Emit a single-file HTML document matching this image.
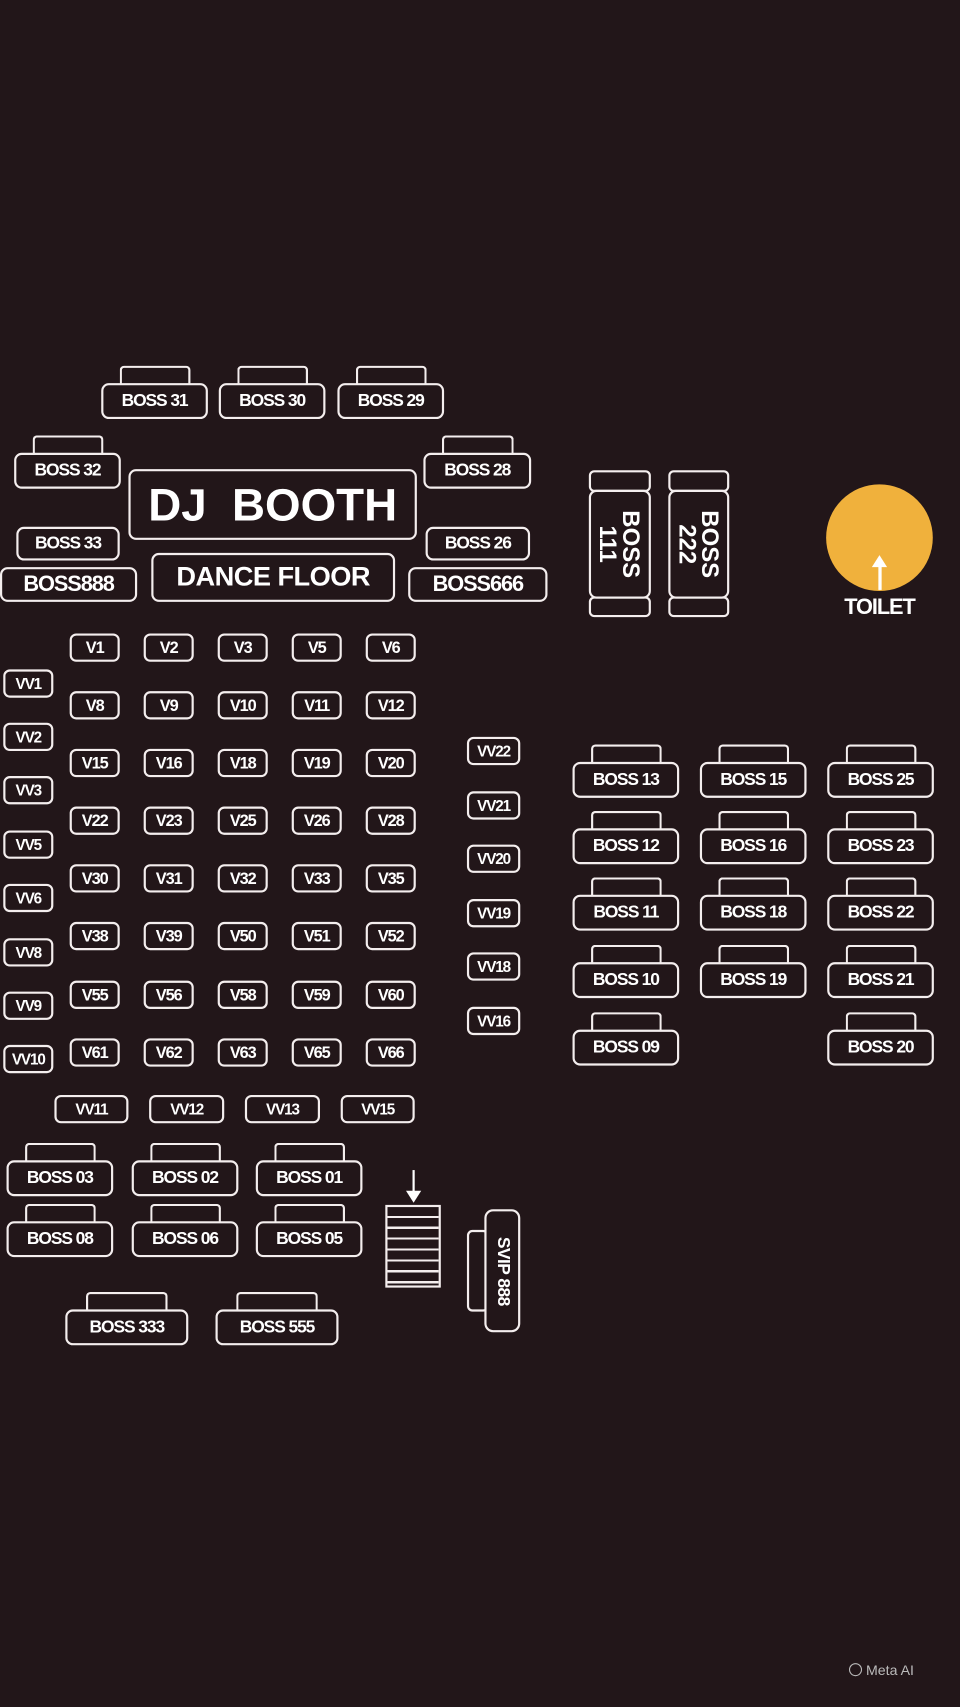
<!DOCTYPE html>
<html><head><meta charset="utf-8"><style>
html,body{margin:0;padding:0;background:#221619;}
body{width:960px;height:1706px;overflow:hidden;position:relative;}
#s{position:absolute;left:0;top:0;width:882px;height:1568px;transform:scale(1.08844);transform-origin:0 0;font-family:"Liberation Sans",sans-serif;font-weight:bold;color:#fff;}
.b{position:absolute;border:2px solid #f4eeee;border-radius:7px;box-sizing:border-box;display:flex;align-items:center;justify-content:center;letter-spacing:-1px;white-space:nowrap;background:#221619;}
.t{position:absolute;border:2px solid #f4eeee;border-bottom:none;border-radius:4px 4px 0 0;box-sizing:border-box;}
.bs{font-size:16px;height:33px;width:98px;}
.v{font-size:15px;width:46px;height:26px;border-radius:6px;}
.vv{font-size:14px;width:46px;height:26px;border-radius:6px;}
</style></head><body><div id="s">
<!-- top boss row -->
<div class="t" style="left:110px;top:336px;width:65px;height:17px"></div><div class="b bs" style="left:93px;top:352px">BOSS 31</div>
<div class="t" style="left:218px;top:336px;width:65px;height:17px"></div><div class="b bs" style="left:201px;top:352px">BOSS 30</div>
<div class="t" style="left:327px;top:336px;width:65px;height:17px"></div><div class="b bs" style="left:310px;top:352px">BOSS 29</div>
<div class="t" style="left:30px;top:400px;width:65px;height:17px"></div><div class="b bs" style="left:13px;top:416px">BOSS 32</div>
<div class="t" style="left:406px;top:400px;width:66px;height:17px"></div><div class="b bs" style="left:389px;top:416px;width:99px">BOSS 28</div>
<div class="b" style="left:118px;top:431px;width:265px;height:65px;font-size:42px;letter-spacing:0">DJ&nbsp; BOOTH</div>
<div class="b bs" style="left:15px;top:484px;width:95px;height:31px">BOSS 33</div>
<div class="b bs" style="left:391px;top:484px;width:96px;height:31px">BOSS 26</div>
<div class="b" style="left:0px;top:521px;width:126px;height:32px;font-size:20px">BOSS888</div>
<div class="b" style="left:139px;top:508px;width:224px;height:45px;font-size:25px;letter-spacing:-0.5px">DANCE FLOOR</div>
<div class="b" style="left:375px;top:521px;width:128px;height:32px;font-size:20px">BOSS666</div>
<!-- vertical boss -->
<div class="b" style="left:541px;top:432px;width:57px;height:20px;border-radius:5px"></div>
<div class="b" style="left:541px;top:548px;width:57px;height:19px;border-radius:5px"></div>
<div class="b" style="left:541px;top:450px;width:57px;height:100px;"><div style="transform:rotate(90deg);font-size:22px;line-height:21px;text-align:center;letter-spacing:0">BOSS<br>111</div></div>
<div class="b" style="left:614px;top:432px;width:56px;height:20px;border-radius:5px"></div>
<div class="b" style="left:614px;top:548px;width:56px;height:19px;border-radius:5px"></div>
<div class="b" style="left:614px;top:450px;width:56px;height:100px;"><div style="transform:rotate(90deg);font-size:22px;line-height:21px;text-align:center;letter-spacing:0">BOSS<br>222</div></div>
<!-- toilet -->
<div style="position:absolute;left:759px;top:445px;width:98px;height:98px;border-radius:50%;background:#f0b13c"></div>
<div style="position:absolute;left:807px;top:520px;width:3px;height:22px;background:#fff"></div>
<div style="position:absolute;left:801px;top:510px;width:0;height:0;border-left:7px solid transparent;border-right:7px solid transparent;border-bottom:11px solid #fff"></div>
<div style="position:absolute;left:758px;top:547px;width:100px;text-align:center;font-size:20px;letter-spacing:-1px">TOILET</div>
<!-- V grid -->
<div class="b v" style="left:64px;top:582px">V1</div><div class="b v" style="left:132px;top:582px">V2</div><div class="b v" style="left:200px;top:582px">V3</div><div class="b v" style="left:268px;top:582px">V5</div><div class="b v" style="left:336px;top:582px">V6</div>
<div class="b v" style="left:64px;top:635px">V8</div><div class="b v" style="left:132px;top:635px">V9</div><div class="b v" style="left:200px;top:635px">V10</div><div class="b v" style="left:268px;top:635px">V11</div><div class="b v" style="left:336px;top:635px">V12</div>
<div class="b v" style="left:64px;top:688px">V15</div><div class="b v" style="left:132px;top:688px">V16</div><div class="b v" style="left:200px;top:688px">V18</div><div class="b v" style="left:268px;top:688px">V19</div><div class="b v" style="left:336px;top:688px">V20</div>
<div class="b v" style="left:64px;top:741px">V22</div><div class="b v" style="left:132px;top:741px">V23</div><div class="b v" style="left:200px;top:741px">V25</div><div class="b v" style="left:268px;top:741px">V26</div><div class="b v" style="left:336px;top:741px">V28</div>
<div class="b v" style="left:64px;top:794px">V30</div><div class="b v" style="left:132px;top:794px">V31</div><div class="b v" style="left:200px;top:794px">V32</div><div class="b v" style="left:268px;top:794px">V33</div><div class="b v" style="left:336px;top:794px">V35</div>
<div class="b v" style="left:64px;top:847px">V38</div><div class="b v" style="left:132px;top:847px">V39</div><div class="b v" style="left:200px;top:847px">V50</div><div class="b v" style="left:268px;top:847px">V51</div><div class="b v" style="left:336px;top:847px">V52</div>
<div class="b v" style="left:64px;top:901px">V55</div><div class="b v" style="left:132px;top:901px">V56</div><div class="b v" style="left:200px;top:901px">V58</div><div class="b v" style="left:268px;top:901px">V59</div><div class="b v" style="left:336px;top:901px">V60</div>
<div class="b v" style="left:64px;top:954px">V61</div><div class="b v" style="left:132px;top:954px">V62</div><div class="b v" style="left:200px;top:954px">V63</div><div class="b v" style="left:268px;top:954px">V65</div><div class="b v" style="left:336px;top:954px">V66</div>
<!-- VV left -->
<div class="b vv" style="left:3px;top:615px">VV1</div>
<div class="b vv" style="left:3px;top:664px">VV2</div>
<div class="b vv" style="left:3px;top:713px">VV3</div>
<div class="b vv" style="left:3px;top:763px">VV5</div>
<div class="b vv" style="left:3px;top:812px">VV6</div>
<div class="b vv" style="left:3px;top:862px">VV8</div>
<div class="b vv" style="left:3px;top:911px">VV9</div>
<div class="b vv" style="left:3px;top:960px">VV10</div>
<!-- VV right -->
<div class="b vv" style="left:429px;top:677px;width:49px">VV22</div>
<div class="b vv" style="left:429px;top:727px;width:49px">VV21</div>
<div class="b vv" style="left:429px;top:776px;width:49px">VV20</div>
<div class="b vv" style="left:429px;top:826px;width:49px">VV19</div>
<div class="b vv" style="left:429px;top:875px;width:49px">VV18</div>
<div class="b vv" style="left:429px;top:925px;width:49px">VV16</div>
<!-- VV bottom -->
<div class="b vv" style="left:50px;top:1006px;width:68px">VV11</div>
<div class="b vv" style="left:137px;top:1006px;width:69px">VV12</div>
<div class="b vv" style="left:225px;top:1006px;width:69px">VV13</div>
<div class="b vv" style="left:313px;top:1006px;width:68px">VV15</div>
<!-- right boss grid -->
<div class="t" style="left:543px;top:684px;width:65px;height:17px"></div><div class="b bs" style="left:526px;top:700px">BOSS 13</div>
<div class="t" style="left:660px;top:684px;width:65px;height:17px"></div><div class="b bs" style="left:643px;top:700px">BOSS 15</div>
<div class="t" style="left:777px;top:684px;width:65px;height:17px"></div><div class="b bs" style="left:760px;top:700px">BOSS 25</div>
<div class="t" style="left:543px;top:745px;width:65px;height:17px"></div><div class="b bs" style="left:526px;top:761px">BOSS 12</div>
<div class="t" style="left:660px;top:745px;width:65px;height:17px"></div><div class="b bs" style="left:643px;top:761px">BOSS 16</div>
<div class="t" style="left:777px;top:745px;width:65px;height:17px"></div><div class="b bs" style="left:760px;top:761px">BOSS 23</div>
<div class="t" style="left:543px;top:806px;width:65px;height:17px"></div><div class="b bs" style="left:526px;top:822px">BOSS 11</div>
<div class="t" style="left:660px;top:806px;width:65px;height:17px"></div><div class="b bs" style="left:643px;top:822px">BOSS 18</div>
<div class="t" style="left:777px;top:806px;width:65px;height:17px"></div><div class="b bs" style="left:760px;top:822px">BOSS 22</div>
<div class="t" style="left:543px;top:868px;width:65px;height:17px"></div><div class="b bs" style="left:526px;top:884px">BOSS 10</div>
<div class="t" style="left:660px;top:868px;width:65px;height:17px"></div><div class="b bs" style="left:643px;top:884px">BOSS 19</div>
<div class="t" style="left:777px;top:868px;width:65px;height:17px"></div><div class="b bs" style="left:760px;top:884px">BOSS 21</div>
<div class="t" style="left:543px;top:930px;width:65px;height:17px"></div><div class="b bs" style="left:526px;top:946px">BOSS 09</div>
<div class="t" style="left:777px;top:930px;width:65px;height:17px"></div><div class="b bs" style="left:760px;top:946px">BOSS 20</div>
<!-- bottom left bosses -->
<div class="t" style="left:23px;top:1050px;width:65px;height:17px"></div><div class="b bs" style="left:6px;top:1066px">BOSS 03</div>
<div class="t" style="left:138px;top:1050px;width:65px;height:17px"></div><div class="b bs" style="left:121px;top:1066px">BOSS 02</div>
<div class="t" style="left:252px;top:1050px;width:65px;height:17px"></div><div class="b bs" style="left:235px;top:1066px">BOSS 01</div>
<div class="t" style="left:23px;top:1106px;width:65px;height:17px"></div><div class="b bs" style="left:6px;top:1122px">BOSS 08</div>
<div class="t" style="left:138px;top:1106px;width:65px;height:17px"></div><div class="b bs" style="left:121px;top:1122px">BOSS 06</div>
<div class="t" style="left:252px;top:1106px;width:65px;height:17px"></div><div class="b bs" style="left:235px;top:1122px">BOSS 05</div>
<div class="t" style="left:79px;top:1187px;width:75px;height:17px"></div><div class="b bs" style="left:60px;top:1203px;width:113px">BOSS 333</div>
<div class="t" style="left:217px;top:1187px;width:75px;height:17px"></div><div class="b bs" style="left:198px;top:1203px;width:113px">BOSS 555</div>
<!-- stairs -->
<div style="position:absolute;left:379px;top:1075px;width:2px;height:22px;background:#fff"></div>
<div style="position:absolute;left:373px;top:1094px;border-left:7px solid transparent;border-right:7px solid transparent;border-top:11px solid #fff"></div>
<div style="position:absolute;left:354px;top:1107px;width:51px;height:76px;box-sizing:border-box;border:2px solid #f4eeee;background:repeating-linear-gradient(to bottom,transparent 0,transparent 8px,#f4eeee 8px,#f4eeee 10px)"></div>
<!-- SVIP -->
<div class="b" style="left:429px;top:1130px;width:20px;height:75px;border-radius:5px"></div>
<div class="b" style="left:445px;top:1111px;width:33px;height:113px;border-radius:8px"><div style="transform:rotate(90deg);font-size:16px;letter-spacing:-0.5px">SVIP 888</div></div>
<div style="position:absolute;left:780px;top:1527px;font-size:13px;font-weight:normal;color:#bbb"><span style="display:inline-block;width:10px;height:10px;border:1.5px solid #bbb;border-radius:50%;vertical-align:-1px"></span> Meta AI</div>
</div></body></html>
